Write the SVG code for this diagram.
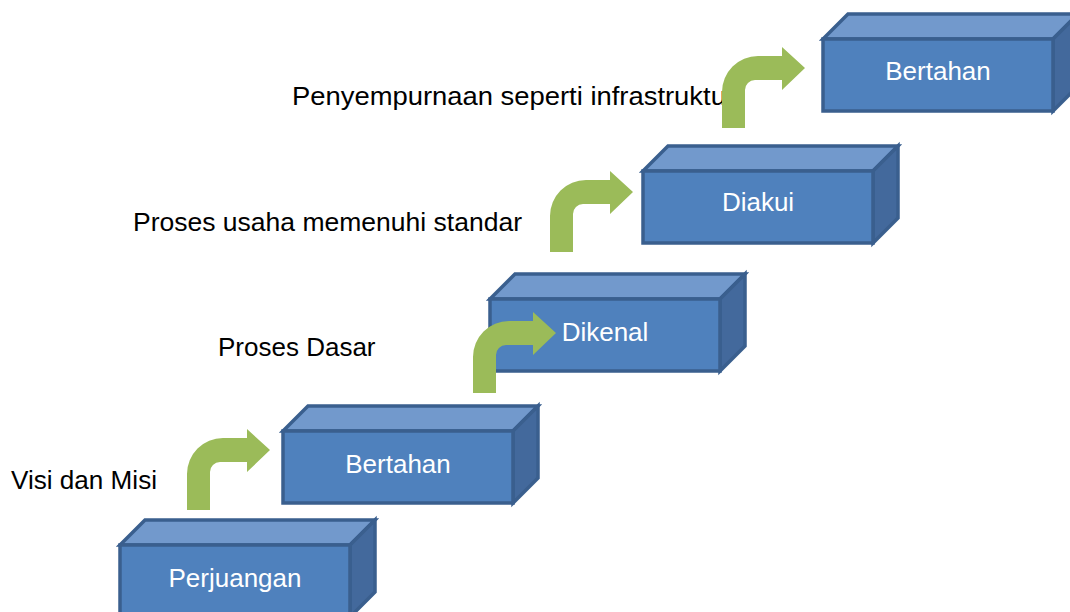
<svg xmlns="http://www.w3.org/2000/svg" xmlns:xlink="http://www.w3.org/1999/xlink" width="1070" height="612" viewBox="0 0 1070 612">
<style>
.face{stroke:#3A5F8E;stroke-width:3.5;stroke-linejoin:miter}
.front{fill:#4F81BD}
.top{fill:#7299CC}
.side{fill:#43699C}
.lbl{font-family:"Liberation Sans",Arial,sans-serif;font-size:26px;fill:#FFFFFF;text-anchor:middle}
.cap{font-family:"Liberation Sans",Arial,sans-serif;font-size:26px;fill:#000000}
.arrow{fill:#9BBB59}
</style>
<defs>
<g id="cube">
<path class="face top" d="M0,0 L25,-25 H255 L230,0 Z"/>
<path class="face side" d="M230,0 L255,-25 V47 L230,72 Z"/>
<rect class="face front" x="0" y="0" width="230" height="72"/>
</g>
<path id="bend" class="arrow" d="M0,0 V-36 A36,36 0 0 1 36,-72 H60 V-81 L83,-60 L60,-38 V-48 H33 A10,10 0 0 0 23,-38 V0 Z"/>
</defs>
<rect width="1070" height="612" fill="#FFFFFF"/>
<g id="captions">
<text class="cap" x="11" y="489" textLength="146" lengthAdjust="spacingAndGlyphs">Visi dan Misi</text>
<text class="cap" x="218" y="356">Proses Dasar</text>
<text class="cap" x="133" y="231" textLength="389" lengthAdjust="spacingAndGlyphs">Proses usaha memenuhi standar</text>
<text class="cap" x="292" y="105" textLength="443" lengthAdjust="spacingAndGlyphs">Penyempurnaan seperti infrastruktur</text>
</g>
<g id="node-perjuangan" transform="translate(120,545)">
<use href="#cube"/>
<text class="lbl" x="115" y="42">Perjuangan</text>
</g>
<g id="node-bertahan-1" transform="translate(283,431)">
<use href="#cube"/>
<text class="lbl" x="115" y="42">Bertahan</text>
</g>
<g id="node-dikenal" transform="translate(490,299)">
<use href="#cube"/>
<text class="lbl" x="115" y="42">Dikenal</text>
</g>
<g id="node-diakui" transform="translate(643,171)">
<use href="#cube"/>
<text class="lbl" x="115" y="40">Diakui</text>
</g>
<g id="node-bertahan-2" transform="translate(823,39)">
<use href="#cube"/>
<text class="lbl" x="115" y="41">Bertahan</text>
</g>
<g id="connectors">
<use href="#bend" transform="translate(187,510)"/>
<use href="#bend" transform="translate(473,393)"/>
<use href="#bend" transform="translate(550,252)"/>
<use href="#bend" transform="translate(722,128)"/>
</g>
</svg>
